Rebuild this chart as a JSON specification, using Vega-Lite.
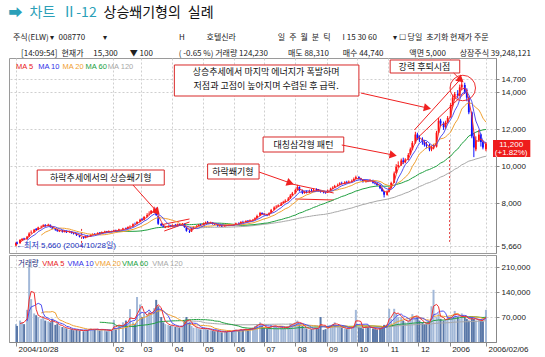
{
"$schema": "https://vega.github.io/schema/vega-lite/v6.json",
"background": "white",
"padding": {"left": 8, "top": 5, "right": 2, "bottom": 2},
"config": {
  "font": "Liberation Sans, Noto Sans CJK KR",
  "view": {"stroke": "#9a9a9a", "strokeWidth": 1},
  "axis": {"labelFont": "Liberation Sans", "labelFontSize": 8, "labelColor": "#222", "gridColor": "#cfcfcf", "gridDash": [2, 2], "gridWidth": 1, "tickColor": "#888", "domainColor": "#888", "labelOverlap": false}
},
"title": {
  "text": "➡\u2002차트\u2002Ⅱ-12",
  "subtitle": "상승쐐기형의\u2002실례",
  "anchor": "start", "font": "Noto Sans CJK KR", "fontSize": 14, "fontWeight": "normal", "color": "#2a9fb8",
  "subtitleFont": "Noto Sans CJK KR", "subtitleFontSize": 14, "subtitleFontWeight": "normal", "subtitleColor": "#111",
  "subtitlePadding": -14, "offset": 14,
  "encode": {"subtitle": {"update": {"dx": {"value": 95}}}}
},
"datasets": {
  "px": [
    {"d":"2004-10-28","o":5700,"h":5900,"l":5660,"c":5840,"v":50000},
    {"d":"2004-10-29","o":5870,"h":5920,"l":5760,"c":5800,"v":45000},
    {"d":"2004-11-01","o":5820,"h":6050,"l":5800,"c":6000,"v":60000},
    {"d":"2004-11-03","o":5990,"h":6110,"l":5950,"c":6060,"v":55000},
    {"d":"2004-11-05","o":6080,"h":6120,"l":5990,"c":6020,"v":50000},
    {"d":"2004-11-08","o":6040,"h":6220,"l":6020,"c":6180,"v":90000},
    {"d":"2004-11-10","o":6190,"h":6420,"l":6170,"c":6350,"v":215000},
    {"d":"2004-11-12","o":6380,"h":6520,"l":6330,"c":6400,"v":120000},
    {"d":"2004-11-15","o":6420,"h":6600,"l":6400,"c":6560,"v":80000},
    {"d":"2004-11-17","o":6600,"h":6650,"l":6500,"c":6540,"v":75000},
    {"d":"2004-11-19","o":6550,"h":6720,"l":6530,"c":6680,"v":70000},
    {"d":"2004-11-22","o":6690,"h":6780,"l":6640,"c":6720,"v":65000},
    {"d":"2004-11-24","o":6730,"h":6850,"l":6700,"c":6800,"v":72000},
    {"d":"2004-11-26","o":6810,"h":6860,"l":6720,"c":6750,"v":60000},
    {"d":"2004-11-29","o":6760,"h":6880,"l":6740,"c":6830,"v":58000},
    {"d":"2004-12-01","o":6820,"h":6840,"l":6660,"c":6700,"v":55000},
    {"d":"2004-12-03","o":6690,"h":6720,"l":6580,"c":6620,"v":65000},
    {"d":"2004-12-06","o":6620,"h":6650,"l":6500,"c":6560,"v":48000},
    {"d":"2004-12-08","o":6560,"h":6590,"l":6450,"c":6480,"v":52000},
    {"d":"2004-12-10","o":6470,"h":6560,"l":6430,"c":6520,"v":45000},
    {"d":"2004-12-13","o":6510,"h":6540,"l":6400,"c":6450,"v":42000},
    {"d":"2004-12-15","o":6440,"h":6540,"l":6410,"c":6500,"v":40000},
    {"d":"2004-12-17","o":6500,"h":6520,"l":6380,"c":6420,"v":38000},
    {"d":"2004-12-20","o":6420,"h":6500,"l":6390,"c":6460,"v":35000},
    {"d":"2004-12-22","o":6450,"h":6470,"l":6340,"c":6380,"v":36000},
    {"d":"2004-12-24","o":6370,"h":6410,"l":6300,"c":6350,"v":33000},
    {"d":"2004-12-27","o":6340,"h":6360,"l":6220,"c":6260,"v":34000},
    {"d":"2004-12-30","o":6250,"h":6280,"l":6140,"c":6180,"v":32000},
    {"d":"2005-01-03","o":6170,"h":6200,"l":6060,"c":6120,"v":30000},
    {"d":"2005-01-05","o":6110,"h":6240,"l":6090,"c":6200,"v":35000},
    {"d":"2005-01-07","o":6210,"h":6260,"l":6150,"c":6180,"v":33000},
    {"d":"2005-01-10","o":6190,"h":6310,"l":6170,"c":6280,"v":38000},
    {"d":"2005-01-12","o":6270,"h":6360,"l":6250,"c":6320,"v":36000},
    {"d":"2005-01-14","o":6330,"h":6370,"l":6270,"c":6300,"v":34000},
    {"d":"2005-01-17","o":6300,"h":6420,"l":6290,"c":6380,"v":37000},
    {"d":"2005-01-19","o":6390,"h":6430,"l":6330,"c":6360,"v":32000},
    {"d":"2005-01-21","o":6360,"h":6460,"l":6340,"c":6420,"v":35000},
    {"d":"2005-01-24","o":6420,"h":6500,"l":6400,"c":6460,"v":36000},
    {"d":"2005-01-26","o":6460,"h":6490,"l":6390,"c":6420,"v":30000},
    {"d":"2005-01-28","o":6420,"h":6520,"l":6400,"c":6480,"v":33000},
    {"d":"2005-01-31","o":6480,"h":6510,"l":6420,"c":6450,"v":31000},
    {"d":"2005-02-02","o":6450,"h":6560,"l":6430,"c":6520,"v":62000},
    {"d":"2005-02-04","o":6520,"h":6560,"l":6460,"c":6490,"v":35000},
    {"d":"2005-02-07","o":6500,"h":6610,"l":6480,"c":6570,"v":45000},
    {"d":"2005-02-11","o":6570,"h":6660,"l":6550,"c":6620,"v":55000},
    {"d":"2005-02-14","o":6630,"h":6680,"l":6570,"c":6600,"v":60000},
    {"d":"2005-02-16","o":6610,"h":6740,"l":6600,"c":6700,"v":50000},
    {"d":"2005-02-18","o":6710,"h":6790,"l":6680,"c":6720,"v":92000},
    {"d":"2005-02-21","o":6730,"h":6900,"l":6710,"c":6850,"v":55000},
    {"d":"2005-02-23","o":6870,"h":6940,"l":6820,"c":6860,"v":50000},
    {"d":"2005-02-25","o":6860,"h":7020,"l":6840,"c":6980,"v":126000},
    {"d":"2005-02-28","o":6990,"h":7150,"l":6960,"c":7100,"v":105000},
    {"d":"2005-03-02","o":7120,"h":7200,"l":7040,"c":7080,"v":70000},
    {"d":"2005-03-04","o":7090,"h":7300,"l":7060,"c":7250,"v":80000},
    {"d":"2005-03-07","o":7260,"h":7450,"l":7220,"c":7350,"v":75000},
    {"d":"2005-03-09","o":7380,"h":7550,"l":7330,"c":7420,"v":85000},
    {"d":"2005-03-11","o":7430,"h":7620,"l":7400,"c":7580,"v":80000},
    {"d":"2005-03-14","o":7560,"h":7800,"l":7520,"c":7700,"v":95000},
    {"d":"2005-03-16","o":7680,"h":7750,"l":7300,"c":7350,"v":118000},
    {"d":"2005-03-18","o":7300,"h":7320,"l":6820,"c":6880,"v":100000},
    {"d":"2005-03-21","o":6860,"h":6920,"l":6740,"c":6800,"v":70000},
    {"d":"2005-03-23","o":6790,"h":6840,"l":6680,"c":6720,"v":55000},
    {"d":"2005-03-25","o":6660,"h":6760,"l":6640,"c":6700,"v":50000},
    {"d":"2005-03-28","o":6690,"h":6800,"l":6670,"c":6760,"v":48000},
    {"d":"2005-03-30","o":6770,"h":6820,"l":6690,"c":6720,"v":45000},
    {"d":"2005-04-01","o":6720,"h":6850,"l":6700,"c":6800,"v":47000},
    {"d":"2005-04-04","o":6800,"h":6870,"l":6740,"c":6780,"v":42000},
    {"d":"2005-04-06","o":6770,"h":6890,"l":6750,"c":6840,"v":44000},
    {"d":"2005-04-08","o":6840,"h":6900,"l":6770,"c":6800,"v":40000},
    {"d":"2005-04-11","o":6800,"h":6920,"l":6780,"c":6860,"v":46000},
    {"d":"2005-04-13","o":6850,"h":6880,"l":6660,"c":6700,"v":60000},
    {"d":"2005-04-15","o":6690,"h":6700,"l":6450,"c":6500,"v":70000},
    {"d":"2005-04-18","o":6480,"h":6560,"l":6380,"c":6450,"v":55000},
    {"d":"2005-04-20","o":6460,"h":6660,"l":6440,"c":6620,"v":45000},
    {"d":"2005-04-22","o":6620,"h":6740,"l":6600,"c":6700,"v":40000},
    {"d":"2005-04-25","o":6710,"h":6800,"l":6680,"c":6750,"v":42000},
    {"d":"2005-04-27","o":6760,"h":6860,"l":6740,"c":6820,"v":38000},
    {"d":"2005-04-29","o":6830,"h":6880,"l":6770,"c":6800,"v":35000},
    {"d":"2005-05-02","o":6800,"h":6940,"l":6790,"c":6900,"v":40000},
    {"d":"2005-05-04","o":6900,"h":7000,"l":6870,"c":6950,"v":38000},
    {"d":"2005-05-06","o":6960,"h":7030,"l":6890,"c":6920,"v":35000},
    {"d":"2005-05-09","o":6920,"h":6990,"l":6880,"c":6940,"v":33000},
    {"d":"2005-05-11","o":6940,"h":6960,"l":6830,"c":6870,"v":32000},
    {"d":"2005-05-13","o":6870,"h":6900,"l":6800,"c":6850,"v":30000},
    {"d":"2005-05-16","o":6840,"h":6860,"l":6720,"c":6760,"v":31000},
    {"d":"2005-05-18","o":6760,"h":6820,"l":6720,"c":6790,"v":28000},
    {"d":"2005-05-20","o":6790,"h":6810,"l":6700,"c":6740,"v":27000},
    {"d":"2005-05-23","o":6740,"h":6830,"l":6720,"c":6800,"v":30000},
    {"d":"2005-05-25","o":6800,"h":6840,"l":6750,"c":6780,"v":28000},
    {"d":"2005-05-27","o":6770,"h":6850,"l":6750,"c":6820,"v":32000},
    {"d":"2005-05-30","o":6820,"h":6850,"l":6760,"c":6790,"v":30000},
    {"d":"2005-06-01","o":6790,"h":6870,"l":6770,"c":6830,"v":33000},
    {"d":"2005-06-03","o":6830,"h":6940,"l":6810,"c":6900,"v":35000},
    {"d":"2005-06-06","o":6900,"h":6960,"l":6850,"c":6880,"v":32000},
    {"d":"2005-06-08","o":6880,"h":7020,"l":6870,"c":6980,"v":36000},
    {"d":"2005-06-10","o":6980,"h":7040,"l":6930,"c":6960,"v":34000},
    {"d":"2005-06-13","o":6960,"h":7070,"l":6940,"c":7030,"v":37000},
    {"d":"2005-06-15","o":7040,"h":7080,"l":6970,"c":7000,"v":33000},
    {"d":"2005-06-17","o":7000,"h":7110,"l":6980,"c":7060,"v":38000},
    {"d":"2005-06-20","o":7050,"h":7140,"l":7020,"c":7090,"v":40000},
    {"d":"2005-06-22","o":7090,"h":7230,"l":7070,"c":7180,"v":45000},
    {"d":"2005-06-24","o":7180,"h":7370,"l":7160,"c":7300,"v":50000},
    {"d":"2005-06-27","o":7310,"h":7520,"l":7290,"c":7460,"v":55000},
    {"d":"2005-06-29","o":7460,"h":7500,"l":7360,"c":7400,"v":45000},
    {"d":"2005-07-01","o":7400,"h":7460,"l":7330,"c":7380,"v":40000},
    {"d":"2005-07-04","o":7380,"h":7420,"l":7290,"c":7340,"v":38000},
    {"d":"2005-07-06","o":7340,"h":7500,"l":7320,"c":7460,"v":42000},
    {"d":"2005-07-08","o":7460,"h":7680,"l":7440,"c":7620,"v":48000},
    {"d":"2005-07-11","o":7630,"h":7820,"l":7600,"c":7760,"v":45000},
    {"d":"2005-07-13","o":7770,"h":7880,"l":7720,"c":7800,"v":42000},
    {"d":"2005-07-15","o":7810,"h":7930,"l":7780,"c":7870,"v":40000},
    {"d":"2005-07-18","o":7880,"h":8050,"l":7850,"c":7980,"v":43000},
    {"d":"2005-07-20","o":8000,"h":8120,"l":7960,"c":8050,"v":38000},
    {"d":"2005-07-22","o":8060,"h":8200,"l":8020,"c":8120,"v":40000},
    {"d":"2005-07-25","o":8130,"h":8320,"l":8100,"c":8240,"v":45000},
    {"d":"2005-07-27","o":8250,"h":8480,"l":8220,"c":8400,"v":52000},
    {"d":"2005-07-29","o":8410,"h":8600,"l":8380,"c":8520,"v":50000},
    {"d":"2005-08-01","o":8530,"h":8780,"l":8500,"c":8700,"v":55000},
    {"d":"2005-08-03","o":8710,"h":8980,"l":8680,"c":8860,"v":60000},
    {"d":"2005-08-05","o":8860,"h":8900,"l":8620,"c":8680,"v":50000},
    {"d":"2005-08-08","o":8680,"h":8720,"l":8480,"c":8540,"v":45000},
    {"d":"2005-08-10","o":8540,"h":8660,"l":8500,"c":8600,"v":40000},
    {"d":"2005-08-12","o":8600,"h":8680,"l":8520,"c":8560,"v":38000},
    {"d":"2005-08-15","o":8560,"h":8720,"l":8530,"c":8650,"v":35000},
    {"d":"2005-08-17","o":8650,"h":8760,"l":8580,"c":8620,"v":36000},
    {"d":"2005-08-19","o":8620,"h":8780,"l":8600,"c":8700,"v":38000},
    {"d":"2005-08-22","o":8700,"h":8790,"l":8640,"c":8680,"v":40000},
    {"d":"2005-08-24","o":8690,"h":8750,"l":8610,"c":8660,"v":37000},
    {"d":"2005-08-26","o":8660,"h":8700,"l":8560,"c":8600,"v":70000},
    {"d":"2005-08-29","o":8600,"h":8650,"l":8520,"c":8580,"v":34000},
    {"d":"2005-08-31","o":8580,"h":8640,"l":8500,"c":8560,"v":36000},
    {"d":"2005-09-02","o":8560,"h":8730,"l":8540,"c":8680,"v":45000},
    {"d":"2005-09-05","o":8680,"h":8830,"l":8650,"c":8780,"v":48000},
    {"d":"2005-09-07","o":8790,"h":8900,"l":8750,"c":8820,"v":50000},
    {"d":"2005-09-09","o":8820,"h":8980,"l":8800,"c":8920,"v":55000},
    {"d":"2005-09-12","o":8920,"h":9050,"l":8900,"c":8970,"v":45000},
    {"d":"2005-09-14","o":8970,"h":9120,"l":8950,"c":9060,"v":42000},
    {"d":"2005-09-16","o":9070,"h":9150,"l":9000,"c":9040,"v":40000},
    {"d":"2005-09-19","o":9040,"h":9180,"l":9010,"c":9120,"v":38000},
    {"d":"2005-09-21","o":9120,"h":9200,"l":9050,"c":9080,"v":36000},
    {"d":"2005-09-23","o":9080,"h":9220,"l":9060,"c":9150,"v":40000},
    {"d":"2005-09-26","o":9150,"h":9270,"l":9110,"c":9200,"v":42000},
    {"d":"2005-09-28","o":9200,"h":9380,"l":9180,"c":9300,"v":45000},
    {"d":"2005-09-30","o":9300,"h":9480,"l":9280,"c":9400,"v":90000},
    {"d":"2005-10-03","o":9400,"h":9450,"l":9260,"c":9320,"v":42000},
    {"d":"2005-10-05","o":9320,"h":9360,"l":9200,"c":9250,"v":40000},
    {"d":"2005-10-07","o":9250,"h":9280,"l":9100,"c":9150,"v":38000},
    {"d":"2005-10-10","o":9150,"h":9260,"l":9100,"c":9200,"v":45000},
    {"d":"2005-10-12","o":9200,"h":9280,"l":9130,"c":9180,"v":42000},
    {"d":"2005-10-14","o":9180,"h":9300,"l":9150,"c":9230,"v":40000},
    {"d":"2005-10-17","o":9230,"h":9260,"l":9050,"c":9100,"v":38000},
    {"d":"2005-10-19","o":9100,"h":9150,"l":9000,"c":9060,"v":36000},
    {"d":"2005-10-21","o":9060,"h":9100,"l":8930,"c":8980,"v":35000},
    {"d":"2005-10-24","o":8980,"h":9000,"l":8750,"c":8800,"v":40000},
    {"d":"2005-10-26","o":8800,"h":8840,"l":8600,"c":8650,"v":42000},
    {"d":"2005-10-28","o":8640,"h":8660,"l":8300,"c":8450,"v":48000},
    {"d":"2005-10-31","o":8440,"h":8680,"l":8400,"c":8620,"v":50000},
    {"d":"2005-11-02","o":8620,"h":8860,"l":8580,"c":8800,"v":93000},
    {"d":"2005-11-04","o":8800,"h":9150,"l":8780,"c":9080,"v":65000},
    {"d":"2005-11-07","o":9100,"h":9700,"l":9080,"c":9600,"v":93000},
    {"d":"2005-11-09","o":9620,"h":10100,"l":9580,"c":9950,"v":80000},
    {"d":"2005-11-11","o":9960,"h":10250,"l":9900,"c":10050,"v":70000},
    {"d":"2005-11-14","o":10060,"h":10400,"l":10000,"c":10300,"v":70000},
    {"d":"2005-11-16","o":10300,"h":10450,"l":10100,"c":10200,"v":60000},
    {"d":"2005-11-18","o":10200,"h":10420,"l":10150,"c":10350,"v":55000},
    {"d":"2005-11-21","o":10350,"h":10700,"l":10300,"c":10600,"v":60000},
    {"d":"2005-11-23","o":10620,"h":11000,"l":10600,"c":10900,"v":65000},
    {"d":"2005-11-25","o":10900,"h":11350,"l":10850,"c":11250,"v":78000},
    {"d":"2005-11-28","o":11260,"h":11850,"l":11200,"c":11700,"v":72000},
    {"d":"2005-11-30","o":11700,"h":11800,"l":11400,"c":11500,"v":70000},
    {"d":"2005-12-02","o":11500,"h":11650,"l":11300,"c":11450,"v":60000},
    {"d":"2005-12-05","o":11450,"h":11550,"l":11150,"c":11300,"v":55000},
    {"d":"2005-12-07","o":11300,"h":11400,"l":11050,"c":11150,"v":50000},
    {"d":"2005-12-09","o":11150,"h":11300,"l":10950,"c":11100,"v":52000},
    {"d":"2005-12-12","o":11100,"h":11200,"l":10800,"c":10900,"v":55000},
    {"d":"2005-12-14","o":10900,"h":11100,"l":10800,"c":10950,"v":100000},
    {"d":"2005-12-16","o":10950,"h":11200,"l":10900,"c":11050,"v":146000},
    {"d":"2005-12-19","o":11050,"h":11900,"l":11000,"c":11800,"v":70000},
    {"d":"2005-12-21","o":11800,"h":12600,"l":11750,"c":12450,"v":80000},
    {"d":"2005-12-23","o":12450,"h":12550,"l":12150,"c":12300,"v":65000},
    {"d":"2005-12-26","o":12300,"h":12400,"l":11950,"c":12100,"v":60000},
    {"d":"2005-12-28","o":12100,"h":12450,"l":12000,"c":12350,"v":62000},
    {"d":"2005-12-30","o":12350,"h":12700,"l":12300,"c":12600,"v":70000},
    {"d":"2006-01-02","o":12650,"h":13400,"l":12600,"c":13300,"v":70000},
    {"d":"2006-01-04","o":13300,"h":13850,"l":13200,"c":13700,"v":75000},
    {"d":"2006-01-06","o":13700,"h":14000,"l":13600,"c":13900,"v":87000},
    {"d":"2006-01-09","o":13900,"h":14100,"l":13650,"c":13800,"v":70000},
    {"d":"2006-01-11","o":13800,"h":14400,"l":13750,"c":14250,"v":65000},
    {"d":"2006-01-13","o":14250,"h":14700,"l":14100,"c":14400,"v":80000},
    {"d":"2006-01-16","o":14380,"h":14500,"l":13900,"c":14000,"v":70000},
    {"d":"2006-01-18","o":14000,"h":14200,"l":13500,"c":13700,"v":65000},
    {"d":"2006-01-20","o":13700,"h":13750,"l":12800,"c":12900,"v":60000},
    {"d":"2006-01-23","o":12900,"h":12950,"l":11500,"c":11600,"v":70000},
    {"d":"2006-01-25","o":11600,"h":11800,"l":10480,"c":11000,"v":65000},
    {"d":"2006-01-27","o":10900,"h":11600,"l":10800,"c":11400,"v":60000},
    {"d":"2006-01-30","o":11400,"h":11950,"l":11300,"c":11700,"v":62000},
    {"d":"2006-02-01","o":11700,"h":11750,"l":11050,"c":11300,"v":60000},
    {"d":"2006-02-03","o":11300,"h":11400,"l":10900,"c":11000,"v":58000},
    {"d":"2006-02-06","o":10900,"h":11300,"l":10800,"c":11200,"v":90000}
  ],
  "ann": [
    {"d":"2005-07-03","p":15081,"t":"상승추세에서 마지막 에너지가 폭발하며\n저점과 고점이 높아지며 수렴된 후 급락."},
    {"d":"2005-12-07","p":15378,"t":"강력 후퇴시점"},
    {"d":"2005-08-09","p":11162,"t":"대칭삼각형 패턴"},
    {"d":"2005-05-31","p":9703,"t":"하락쐐기형"},
    {"d":"2005-01-20","p":9378,"t":"하락추세에서의 상승쐐기형"}
  ],
  "box": [
    {"d":"2005-04-03","d2":"2005-10-03","p":15460,"p2":13784},
    {"d":"2005-11-03","d2":"2006-01-11","p":15730,"p2":15027},
    {"d":"2005-06-30","d2":"2005-09-18","p":11568,"p2":10757},
    {"d":"2005-05-06","d2":"2005-06-26","p":10108,"p2":9297},
    {"d":"2004-11-18","d2":"2005-03-24","p":9784,"p2":8973}
  ],
  "arr": [
    {"d":"2005-10-05","p":13946,"d2":"2005-12-10","p2":13135,"a":102},
    {"d":"2006-01-05","p":15027,"d2":"2006-01-12","p2":14649,"a":131},
    {"d":"2005-09-16","p":11135,"d2":"2005-11-06","p2":10595,"a":101},
    {"d":"2005-06-26","p":9676,"d2":"2005-07-27","p2":9081,"a":109},
    {"d":"2005-02-21","p":8973,"d2":"2005-03-17","p2":7514,"a":137}
  ],
  "wl": [
    {"d":"2005-03-20","p":6811,"d2":"2005-04-18","p2":7136},
    {"d":"2005-03-24","p":6487,"d2":"2005-04-18","p2":6973},
    {"d":"2005-07-24","p":9081,"d2":"2005-09-08","p2":8541},
    {"d":"2005-08-01","p":8217,"d2":"2005-09-08","p2":8163},
    {"d":"2005-11-27","p":11946,"d2":"2006-01-11","p2":14649},
    {"d":"2005-11-28","p":11406,"d2":"2006-01-19","p2":14108}
  ],
  "yl": [
    {"d":"2005-01-01","p":6600,"p2":5500},
    {"d":"2006-01-01","p":11400,"p2":5900}
  ],
  "leg": [
    {"d":"2004-10-28","p":15351,"t":"MA 5","s":"5"},
    {"d":"2004-11-19","p":15351,"t":"MA 10","s":"10"},
    {"d":"2004-12-13","p":15351,"t":"MA 20","s":"20"},
    {"d":"2005-01-05","p":15351,"t":"MA 60","s":"60"},
    {"d":"2005-01-27","p":15351,"t":"MA 120","s":"120"}
  ],
  "vleg": [
    {"d":"2004-10-30","v":218400,"t":"거래량","s":"vol"},
    {"d":"2004-11-23","v":218400,"t":"VMA 5","s":"5"},
    {"d":"2004-12-18","v":218400,"t":"VMA 10","s":"10"},
    {"d":"2005-01-14","v":218400,"t":"VMA 20","s":"20"},
    {"d":"2005-02-10","v":218400,"t":"VMA 60","s":"60"},
    {"d":"2005-03-12","v":218400,"t":"VMA 120","s":"120"}
  ],
  "mn": [{"d":"2004-10-28","p":5660,"t":"←최저 5,660 (2004/10/28일)"}],
  "ell": [{"d":"2006-01-14","p":14216}],
  "tag": [{"d":"2006-02-13","d2":"2006-03-22","p":11406,"p2":10486,"m":"2006-03-03","pm":11162,"t":"11,200\n(+1.82%)"}]
},
"spacing": 0,
"vconcat": [
{
  "width": 487, "height": 195,
  "title": {
    "text": [
      "주식(ELW) ▾\u2002008770\u3000\u3000\u00a0▾\u3000\u3000\u3000\u3000\u3000\u3000\u3000\u3000\u3000H\u3000\u3000\u2002\u00a0호텔신라\u3000\u3000\u3000\u3000\u3000\u00a0일\u2002주\u2002월\u2002분\u2002틱\u3000\u2002I 15 30 60\u3000\u3000▾ ☐ 당일\u2002초기화 현재가 주문",
      "\u200b\u3000[14:09:54]\u2002현재가\u2002\u2002\u00a015,300\u3000\u2002▼ 100\u3000\u3000\u3000\u00a0( -0.65 %) 거래량 124,230\u3000\u3000\u2002매도 88,310\u3000\u2002\u00a0매수 44,740\u3000\u3000\u3000\u00a0액면 5,000\u3000\u2002\u00a0상장주식 39,248,121"
    ],
    "anchor": "start", "dx": 4, "font": "Noto Sans CJK KR", "fontSize": 8, "fontWeight": "normal", "lineHeight": 16, "color": "#222", "offset": 0
  },
  "layer": [
    {
      "data": {"name": "yl"},
      "mark": {"type": "rule", "color": "#e03030", "strokeDash": [2, 2], "strokeWidth": 1},
      "encoding": {
        "x": {"field": "d", "type": "temporal", "title": null,
          "scale": {"type": "utc", "domain": [{"year": 2004, "month": 10, "date": 26, "utc": true}, {"year": 2006, "month": 2, "date": 11, "utc": true}]},
          "axis": {"values": [
            {"year":2004,"month":10,"date":28,"utc":true},{"year":2005,"month":2,"date":1,"utc":true},{"year":2005,"month":3,"date":1,"utc":true},{"year":2005,"month":4,"date":1,"utc":true},{"year":2005,"month":5,"date":1,"utc":true},{"year":2005,"month":6,"date":1,"utc":true},{"year":2005,"month":7,"date":1,"utc":true},{"year":2005,"month":8,"date":1,"utc":true},{"year":2005,"month":9,"date":1,"utc":true},{"year":2005,"month":10,"date":1,"utc":true},{"year":2005,"month":11,"date":1,"utc":true},{"year":2005,"month":12,"date":1,"utc":true},{"year":2006,"month":1,"date":1,"utc":true},{"year":2006,"month":2,"date":6,"utc":true}],
            "tickCount": 40, "labels": false, "ticks": false, "domain": false, "grid": true}},
        "y": {"field": "p", "type": "quantitative", "title": null,
          "scale": {"domain": [5298, 15838], "nice": false, "zero": false},
          "axis": {"orient": "right", "values": [5660, 8000, 10000, 12000, 14000, 14700], "tickCount": 20, "format": ",d", "grid": true, "tickSize": 3, "labelPadding": 2, "labelOverlap": false}},
        "y2": {"field": "p2"}
      }
    },
    {
      "data": {"name": "wl"},
      "mark": {"type": "rule", "color": "#f02020", "strokeWidth": 1},
      "encoding": {
        "x": {"field": "d", "type": "temporal", "title": null}, "x2": {"field": "d2"},
        "y": {"field": "p", "type": "quantitative", "title": null}, "y2": {"field": "p2"}
      }
    },
    {
      "data": {"name": "px"},
      "transform": [{"window": [{"op": "mean", "field": "c", "as": "m"}, {"op": "count", "as": "n"}], "frame": [-71, 0], "sort": [{"field": "d"}]}, {"filter": "datum.n >= 72"}],
      "mark": {"type": "line", "color": "#a8a8a8", "strokeWidth": 1},
      "encoding": {"x": {"field": "d", "type": "temporal", "title": null}, "y": {"field": "m", "type": "quantitative", "title": null}}
    },
    {
      "data": {"name": "px"},
      "transform": [{"window": [{"op": "mean", "field": "c", "as": "m"}, {"op": "count", "as": "n"}], "frame": [-35, 0], "sort": [{"field": "d"}]}, {"filter": "datum.n >= 36"}],
      "mark": {"type": "line", "color": "#20a040", "strokeWidth": 1},
      "encoding": {"x": {"field": "d", "type": "temporal", "title": null}, "y": {"field": "m", "type": "quantitative", "title": null}}
    },
    {
      "data": {"name": "px"},
      "mark": {"type": "rule", "strokeWidth": 1},
      "encoding": {
        "x": {"field": "d", "type": "temporal", "title": null},
        "y": {"field": "l", "type": "quantitative", "title": null}, "y2": {"field": "h"},
        "color": {"condition": {"test": "datum.c >= datum.o", "value": "#ff1010"}, "value": "#1010ff"}
      }
    },
    {
      "data": {"name": "px"},
      "mark": {"type": "bar", "size": 1.8},
      "encoding": {
        "x": {"field": "d", "type": "temporal", "title": null},
        "y": {"field": "o", "type": "quantitative", "title": null}, "y2": {"field": "c"},
        "color": {"condition": {"test": "datum.c >= datum.o", "value": "#ff1010"}, "value": "#1010ff"}
      }
    },
    {
      "data": {"name": "px"},
      "transform": [{"window": [{"op": "mean", "field": "c", "as": "m"}, {"op": "count", "as": "n"}], "frame": [-11, 0], "sort": [{"field": "d"}]}, {"filter": "datum.n >= 12"}],
      "mark": {"type": "line", "color": "#f0a030", "strokeWidth": 1},
      "encoding": {"x": {"field": "d", "type": "temporal", "title": null}, "y": {"field": "m", "type": "quantitative", "title": null}}
    },
    {
      "data": {"name": "px"},
      "transform": [{"window": [{"op": "mean", "field": "c", "as": "m"}, {"op": "count", "as": "n"}], "frame": [-5, 0], "sort": [{"field": "d"}]}, {"filter": "datum.n >= 6"}],
      "mark": {"type": "line", "color": "#5050f0", "strokeWidth": 1},
      "encoding": {"x": {"field": "d", "type": "temporal", "title": null}, "y": {"field": "m", "type": "quantitative", "title": null}}
    },
    {
      "data": {"name": "px"},
      "transform": [{"window": [{"op": "mean", "field": "c", "as": "m"}, {"op": "count", "as": "n"}], "frame": [-2, 0], "sort": [{"field": "d"}]}, {"filter": "datum.n >= 3"}],
      "mark": {"type": "line", "color": "#f03030", "strokeWidth": 1},
      "encoding": {"x": {"field": "d", "type": "temporal", "title": null}, "y": {"field": "m", "type": "quantitative", "title": null}}
    },
    {
      "data": {"name": "ell"},
      "mark": {"type": "point", "shape": "circle", "size": 650, "filled": false, "color": "#f03030", "strokeWidth": 1, "opacity": 1},
      "encoding": {"x": {"field": "d", "type": "temporal", "title": null}, "y": {"field": "p", "type": "quantitative", "title": null}}
    },
    {
      "data": {"name": "box"},
      "mark": {"type": "rect", "fill": "white", "stroke": "#d82828", "strokeWidth": 1},
      "encoding": {
        "x": {"field": "d", "type": "temporal", "title": null}, "x2": {"field": "d2"},
        "y": {"field": "p", "type": "quantitative", "title": null}, "y2": {"field": "p2"}
      }
    },
    {
      "data": {"name": "arr"},
      "mark": {"type": "rule", "color": "#f02020", "strokeWidth": 1},
      "encoding": {
        "x": {"field": "d", "type": "temporal", "title": null}, "x2": {"field": "d2"},
        "y": {"field": "p", "type": "quantitative", "title": null}, "y2": {"field": "p2"}
      }
    },
    {
      "data": {"name": "arr"},
      "mark": {"type": "point", "shape": "triangle-up", "size": 70, "filled": true, "color": "#f02020", "opacity": 1},
      "encoding": {
        "x": {"field": "d2", "type": "temporal", "title": null},
        "y": {"field": "p2", "type": "quantitative", "title": null},
        "angle": {"field": "a", "type": "quantitative", "scale": null}
      }
    },
    {
      "data": {"name": "ann"},
      "mark": {"type": "text", "font": "Noto Sans CJK KR", "fontSize": 9, "color": "#111", "align": "center", "baseline": "middle", "lineBreak": "\n", "lineHeight": 13.5},
      "encoding": {
        "x": {"field": "d", "type": "temporal", "title": null},
        "y": {"field": "p", "type": "quantitative", "title": null},
        "text": {"field": "t"}
      }
    },
    {
      "data": {"name": "leg"},
      "mark": {"type": "text", "fontSize": 7.5, "align": "left", "baseline": "middle"},
      "encoding": {
        "x": {"field": "d", "type": "temporal", "title": null},
        "y": {"field": "p", "type": "quantitative", "title": null},
        "text": {"field": "t"},
        "color": {"field": "s", "type": "nominal", "legend": null,
          "scale": {"domain": ["5", "10", "20", "60", "120", "vol"], "range": ["#e82020", "#3030e8", "#f0a030", "#20a040", "#a8a8a8", "#1a2a7a"]}}
      }
    },
    {
      "data": {"name": "mn"},
      "mark": {"type": "text", "fontSize": 8, "align": "left", "baseline": "middle", "color": "#2030c0"},
      "encoding": {
        "x": {"field": "d", "type": "temporal", "title": null},
        "y": {"field": "p", "type": "quantitative", "title": null},
        "text": {"field": "t"}
      }
    },
    {
      "data": {"name": "tag"},
      "mark": {"type": "rect", "fill": "#ee1c1c"},
      "encoding": {
        "x": {"field": "d", "type": "temporal", "title": null}, "x2": {"field": "d2"},
        "y": {"field": "p", "type": "quantitative", "title": null}, "y2": {"field": "p2"}
      }
    },
    {
      "data": {"name": "tag"},
      "mark": {"type": "text", "fontSize": 8, "color": "white", "align": "center", "baseline": "middle", "lineBreak": "\n", "lineHeight": 8.5},
      "encoding": {
        "x": {"field": "m", "type": "temporal", "title": null},
        "y": {"field": "pm", "type": "quantitative", "title": null},
        "text": {"field": "t"}
      }
    }
  ]
},
{
  "width": 487, "height": 87,
  "layer": [
    {
      "data": {"name": "px"},
      "mark": {"type": "bar", "size": 2},
      "encoding": {
        "x": {"field": "d", "type": "temporal", "title": null,
          "scale": {"type": "utc", "domain": [{"year": 2004, "month": 10, "date": 26, "utc": true}, {"year": 2006, "month": 2, "date": 11, "utc": true}]},
          "axis": {"values": [
            {"year":2004,"month":10,"date":28,"utc":true},{"year":2005,"month":2,"date":1,"utc":true},{"year":2005,"month":3,"date":1,"utc":true},{"year":2005,"month":4,"date":1,"utc":true},{"year":2005,"month":5,"date":1,"utc":true},{"year":2005,"month":6,"date":1,"utc":true},{"year":2005,"month":7,"date":1,"utc":true},{"year":2005,"month":8,"date":1,"utc":true},{"year":2005,"month":9,"date":1,"utc":true},{"year":2005,"month":10,"date":1,"utc":true},{"year":2005,"month":11,"date":1,"utc":true},{"year":2005,"month":12,"date":1,"utc":true},{"year":2006,"month":1,"date":1,"utc":true},{"year":2006,"month":2,"date":6,"utc":true}],
            "tickCount": 40,
            "labelExpr": "utcFormat(datum.value, '%m-%d') == '01-01' ? utcFormat(datum.value, '%Y') : (utcFormat(datum.value, '%d') == '01' ? utcFormat(datum.value, '%m') : utcFormat(datum.value, '%Y/%m/%d'))",
            "grid": true, "ticks": true, "tickSize": 4, "labelAlign": "left", "labelOffset": 2, "labelPadding": -1, "labelOverlap": false, "labelFlush": false}},
        "y": {"field": "v", "type": "quantitative", "title": null,
          "scale": {"domain": [0, 243600], "nice": false},
          "axis": {"orient": "right", "values": [70000, 140000, 210000], "tickCount": 20, "format": ",d", "grid": true, "tickSize": 3, "labelPadding": 2}},
        "color": {"condition": {"test": "datum.c >= datum.o", "value": "#a2b8d8"}, "value": "#5a78a8"}
      }
    },
    {
      "data": {"name": "px"},
      "transform": [{"window": [{"op": "mean", "field": "v", "as": "m"}, {"op": "count", "as": "n"}], "frame": [-71, 0], "sort": [{"field": "d"}]}, {"filter": "datum.n >= 72"}],
      "mark": {"type": "line", "color": "#a8a8a8", "strokeWidth": 1},
      "encoding": {"x": {"field": "d", "type": "temporal", "title": null}, "y": {"field": "m", "type": "quantitative", "title": null}}
    },
    {
      "data": {"name": "px"},
      "transform": [{"window": [{"op": "mean", "field": "v", "as": "m"}, {"op": "count", "as": "n"}], "frame": [-35, 0], "sort": [{"field": "d"}]}, {"filter": "datum.n >= 36"}],
      "mark": {"type": "line", "color": "#20a040", "strokeWidth": 1},
      "encoding": {"x": {"field": "d", "type": "temporal", "title": null}, "y": {"field": "m", "type": "quantitative", "title": null}}
    },
    {
      "data": {"name": "px"},
      "transform": [{"window": [{"op": "mean", "field": "v", "as": "m"}, {"op": "count", "as": "n"}], "frame": [-11, 0], "sort": [{"field": "d"}]}, {"filter": "datum.n >= 12"}],
      "mark": {"type": "line", "color": "#f0a030", "strokeWidth": 1},
      "encoding": {"x": {"field": "d", "type": "temporal", "title": null}, "y": {"field": "m", "type": "quantitative", "title": null}}
    },
    {
      "data": {"name": "px"},
      "transform": [{"window": [{"op": "mean", "field": "v", "as": "m"}, {"op": "count", "as": "n"}], "frame": [-5, 0], "sort": [{"field": "d"}]}, {"filter": "datum.n >= 6"}],
      "mark": {"type": "line", "color": "#5050f0", "strokeWidth": 1},
      "encoding": {"x": {"field": "d", "type": "temporal", "title": null}, "y": {"field": "m", "type": "quantitative", "title": null}}
    },
    {
      "data": {"name": "px"},
      "transform": [{"window": [{"op": "mean", "field": "v", "as": "m"}, {"op": "count", "as": "n"}], "frame": [-2, 0], "sort": [{"field": "d"}]}, {"filter": "datum.n >= 3"}],
      "mark": {"type": "line", "color": "#f03030", "strokeWidth": 1},
      "encoding": {"x": {"field": "d", "type": "temporal", "title": null}, "y": {"field": "m", "type": "quantitative", "title": null}}
    },
    {
      "data": {"name": "vleg"},
      "mark": {"type": "text", "fontSize": 7.5, "align": "left", "baseline": "middle"},
      "encoding": {
        "x": {"field": "d", "type": "temporal", "title": null},
        "y": {"field": "v", "type": "quantitative", "title": null},
        "text": {"field": "t"},
        "color": {"field": "s", "type": "nominal", "legend": null,
          "scale": {"domain": ["5", "10", "20", "60", "120", "vol"], "range": ["#e82020", "#3030e8", "#f0a030", "#20a040", "#a8a8a8", "#1a2a7a"]}}
      }
    }
  ]
}
]
}
